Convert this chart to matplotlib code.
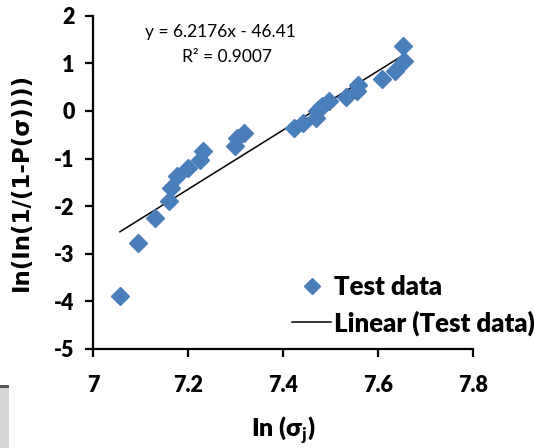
import matplotlib
matplotlib.use("Agg")
import matplotlib.pyplot as plt
from matplotlib.lines import Line2D
from matplotlib.patches import Rectangle

# Data
x_vals = [7.056, 7.0935, 7.1305, 7.159, 7.1636, 7.1756, 7.199, 7.2246, 7.2316,
          7.298, 7.302, 7.317, 7.4225, 7.442, 7.468, 7.472, 7.476, 7.482, 7.497,
          7.532, 7.5545, 7.558, 7.607, 7.635, 7.654, 7.6526]
y_vals = [-3.88, -2.77, -2.24, -1.89, -1.61, -1.37, -1.195, -1.04, -0.85,
          -0.74, -0.57, -0.46, -0.36, -0.25, -0.15, -0.01, 0.03, 0.095, 0.20,
          0.30, 0.41, 0.55, 0.67, 0.83, 1.04, 1.37]
slope = 6.2176
intercept = -46.41
r2 = 0.9007
x_ticks = [7, 7.2, 7.4, 7.6, 7.8]
x_tick_labels = ["7", "7.2", "7.4", "7.6", "7.8"]
y_ticks = [-5, -4, -3, -2, -1, 0, 1, 2]

plt.rcParams['font.family'] = ['Lato', 'DejaVu Sans']
plt.rcParams['axes.unicode_minus'] = False
plt.rcParams['mathtext.fontset'] = 'custom'
plt.rcParams['mathtext.bf'] = 'Lato:black'
plt.rcParams['mathtext.rm'] = 'Lato'

W = 'heavy'

fig = plt.figure(figsize=(5.34, 4.48), dpi=100)
ax = fig.add_axes([0.1747, 0.221, 0.7116, 0.744])

blue = '#4a7ebb'
ax.plot(x_vals, y_vals, linestyle='none', marker='D', markersize=9.5,
        color=blue, markeredgecolor=blue, zorder=3)
xl = [min(x_vals), max(x_vals)]
yl = [slope * v + intercept for v in xl]
ax.plot(xl, yl, color='black', linewidth=1.1, zorder=2)

ax.set_xlim(7, 7.8)
ax.set_ylim(-5, 2)
ax.set_xticks(x_ticks)
ax.set_xticklabels(x_tick_labels)
ax.set_yticks(y_ticks)
for s in ['top', 'right']:
    ax.spines[s].set_visible(False)
for s in ['left', 'bottom']:
    ax.spines[s].set_linewidth(1.6)
ax.tick_params(axis='both', direction='out', length=5.5, width=1.6,
               labelsize=15.5)
ax.tick_params(axis='y', pad=8)
ax.tick_params(axis='x', pad=13)
for lab in ax.get_xticklabels() + ax.get_yticklabels():
    lab.set_fontweight(W)

ax.set_xlabel(r'In (σ$_\mathbf{j}$)', fontsize=18, fontweight=W)
ax.xaxis.set_label_coords(0.5, -0.243, transform=ax.transAxes)
ax.xaxis.label.set_va('center')
ax.set_ylabel('In(In(1/(1-P(σ))))', fontsize=16.5, fontweight='bold',
              family=['DejaVu Sans'])
ax.yaxis.set_label_coords(-0.188, 0.5, transform=ax.transAxes)
ax.yaxis.label.set_va('center')

ax.text(0.335, 0.952, f'y = {slope}x - {abs(intercept)}', transform=ax.transAxes,
        ha='center', va='center', fontsize=12.5)
ax.text(0.352, 0.877, f'R² = {r2}', transform=ax.transAxes,
        ha='center', va='center', fontsize=12.5)

handles = [Line2D([], [], linestyle='none', marker='D', markersize=8.5,
                  color=blue),
           Line2D([], [], color='black', linewidth=1.1)]
leg = fig.legend(handles, ['Test data', 'Linear (Test data)'],
                 loc='upper left', bbox_to_anchor=(0.528, 0.41),
                 frameon=False, prop={'weight': W, 'size': 18.5},
                 handlelength=1.5, handletextpad=0.12, labelspacing=0.45,
                 borderaxespad=0)

fig.patches.append(Rectangle((0, 0), 0.017, 0.14, transform=fig.transFigure,
                             facecolor='#d6d6d6', edgecolor='none'))
fig.patches.append(Rectangle((0, 0.133), 0.017, 0.008, transform=fig.transFigure,
                             facecolor='#555555', edgecolor='none'))

fig.savefig('out.png', dpi=100)
